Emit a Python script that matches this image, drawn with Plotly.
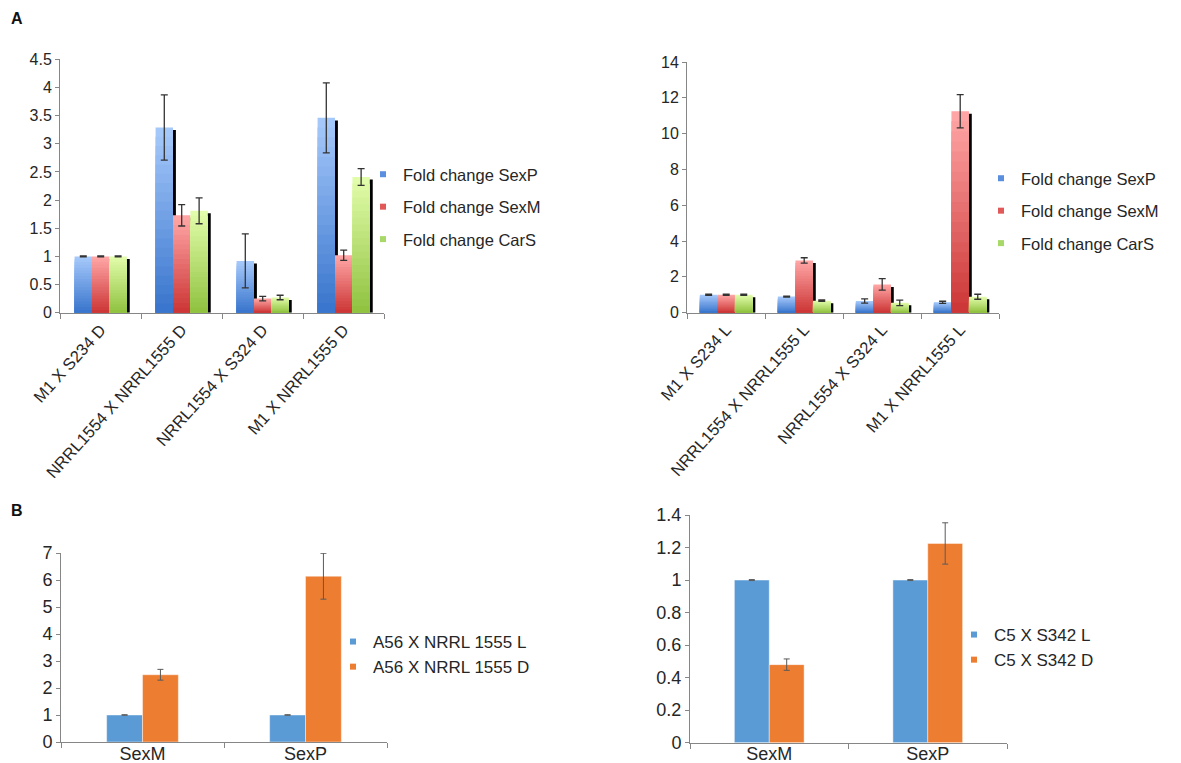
import plotly.graph_objects as go

# ---------------- Data ----------------
# Panel A (left: dark, right: light)
cats_dark = ["M1 X S234 D", "NRRL1554 X NRRL1555 D", "NRRL1554 X S324 D", "M1 X NRRL1555 D"]
cats_light = ["M1 X S234 L", "NRRL1554 X NRRL1555 L", "NRRL1554 X S324 L", "M1 X NRRL1555 L"]
series_names = ["Fold change SexP", "Fold change SexM", "Fold change CarS"]

dark_sexp = [1.00, 3.29, 0.92, 3.46]
dark_sexp_err = [0.01, 0.58, 0.48, 0.62]
dark_sexm = [1.00, 1.73, 0.25, 1.02]
dark_sexm_err = [0.01, 0.19, 0.04, 0.09]
dark_cars = [1.00, 1.81, 0.27, 2.41]
dark_cars_err = [0.01, 0.23, 0.04, 0.15]

light_sexp = [1.00, 0.90, 0.65, 0.58]
light_sexp_err = [0.03, 0.03, 0.12, 0.06]
light_sexm = [1.00, 2.92, 1.58, 11.25]
light_sexm_err = [0.03, 0.15, 0.32, 0.93]
light_cars = [1.00, 0.67, 0.55, 0.89]
light_cars_err = [0.03, 0.04, 0.15, 0.14]

# Panel B
genes = ["SexM", "SexP"]
a56_names = ["A56 X NRRL 1555 L", "A56 X NRRL 1555 D"]
a56_light = [1.00, 1.00]
a56_light_err = [0.01, 0.01]
a56_dark = [2.49, 6.14]
a56_dark_err = [0.20, 0.85]

c5_names = ["C5 X S342 L", "C5 X S342 D"]
c5_light = [1.00, 1.00]
c5_light_err = [0.003, 0.003]
c5_dark = [0.48, 1.225]
c5_dark_err = [0.035, 0.127]

# ---------------- Styles ----------------
FONT = "Liberation Sans, Arial, sans-serif"
TXT = "#262626"
AXC = "#868686"
W, H = 1181, 763
BODY = 8  # page margin around the figure

grad_top = [(165, 200, 250), (255, 165, 165), (225, 252, 170)]
grad_bot = [(58, 118, 205), (205, 55, 55), (145, 195, 65)]
legend_cols = ["#5a8ede", "#e05858", "#a8d868"]
B_COLS = ["#5b9bd5", "#ed7d31"]
N_LAYERS = 20


def lerp(c1, c2, t):
    return "rgb(%d,%d,%d)" % tuple(round(a + (b - a) * t) for a, b in zip(c1, c2))


def fx(p):
    return (p - BODY) / W


def fy(p):
    return 1 - (p - BODY) / H


fig = go.Figure()


def panel_a(xa, ya, cats, vals, errs, offsets, width, yrange, legend):
    # shadows first
    dx = 0.036
    dy = yrange[1] / 250.0 * 2.5
    for i, v in enumerate(vals):
        fig.add_trace(go.Bar(
            x=cats, y=[max(a - dy, 0) for a in v], offset=offsets[i] + dx, width=width,
            marker=dict(color="#000000", line=dict(width=0)),
            xaxis=xa, yaxis=ya, showlegend=False, hoverinfo="skip"))
    # gradient bars
    for i, v in enumerate(vals):
        for k in range(N_LAYERS):
            frac = 1 - k / N_LAYERS
            fig.add_trace(go.Bar(
                x=cats, y=[a * frac for a in v], offset=offsets[i], width=width,
                marker=dict(color=lerp(grad_top[i], grad_bot[i], k / (N_LAYERS - 1)), line=dict(width=0)),
                xaxis=xa, yaxis=ya, showlegend=False, hoverinfo="skip"))
    # error bars on top
    for i, v in enumerate(vals):
        fig.add_trace(go.Bar(
            x=cats, y=v, offset=offsets[i], width=width,
            marker=dict(color="rgba(0,0,0,0)", line=dict(width=0)),
            error_y=dict(type="data", array=errs[i], color="#333333", thickness=1.3, width=3.5),
            xaxis=xa, yaxis=ya, showlegend=False, name=series_names[i]))
    # legend entries
    for i in range(3):
        fig.add_trace(go.Scatter(
            x=[None], y=[None], mode="markers", name=series_names[i],
            marker=dict(symbol="square", size=6, color=legend_cols[i]),
            xaxis=xa, yaxis=ya, legend=legend, legendgroup=legend + str(i)))


def panel_b(xa, ya, cats, vals, errs, names, legend):
    offsets = [-0.22, 0.0]
    for i, v in enumerate(vals):
        fig.add_trace(go.Bar(
            x=cats, y=v, offset=offsets[i], width=0.22, name=names[i],
            marker=dict(color=B_COLS[i], line=dict(width=0.8, color="rgba(255,255,255,0.55)")),
            error_y=dict(type="data", array=errs[i], color="#5a5a5a", thickness=1, width=3),
            xaxis=xa, yaxis=ya, showlegend=False))
    for i in range(2):
        fig.add_trace(go.Scatter(
            x=[None], y=[None], mode="markers", name=names[i],
            marker=dict(symbol="square", size=6, color=B_COLS[i]),
            xaxis=xa, yaxis=ya, legend=legend, legendgroup=legend + str(i)))


panel_a("x", "y", cats_dark, [dark_sexp, dark_sexm, dark_cars],
        [dark_sexp_err, dark_sexm_err, dark_cars_err],
        [-0.32, -0.105, 0.11], 0.215, [0, 4.5], "legend")
panel_a("x2", "y2", cats_light, [light_sexp, light_sexm, light_cars],
        [light_sexp_err, light_sexm_err, light_cars_err],
        [-0.335, -0.11, 0.115], 0.225, [0, 14], "legend2")
panel_b("x3", "y3", genes, [a56_light, a56_dark], [a56_light_err, a56_dark_err], a56_names, "legend3")
panel_b("x4", "y4", genes, [c5_light, c5_dark], [c5_light_err, c5_dark_err], c5_names, "legend4")


def xaxis(a, b, anchor, angle, size, standoff=0):
    return dict(domain=[fx(a), fx(b)], anchor=anchor, type="category", tickson="boundaries",
                ticks="outside", ticklen=5, tickcolor=AXC, showline=True, linecolor=AXC,
                linewidth=1, showgrid=False, zeroline=False, tickangle=angle, automargin=False,
                ticklabelstandoff=standoff,
                tickfont=dict(family=FONT, size=size, color=TXT), fixedrange=True)


def yaxis(top, bottom, anchor, rng, dtick, size):
    return dict(domain=[fy(bottom), fy(top)], anchor=anchor, range=rng, dtick=dtick,
                ticks="outside", ticklen=4, tickcolor=AXC, showline=True, linecolor=AXC,
                linewidth=1, showgrid=False, zeroline=False, automargin=False,
                tickfont=dict(family=FONT, size=size, color=TXT), fixedrange=True)


def legend_cfg(xpx, ytop_px, size, gap):
    return dict(x=fx(xpx), y=fy(ytop_px), xanchor="left", yanchor="top",
                font=dict(family=FONT, size=size, color=TXT), bgcolor="rgba(0,0,0,0)",
                tracegroupgap=gap, borderwidth=0)


fig.update_layout(
    width=W, height=H, margin=dict(l=0, r=0, t=0, b=0, pad=0, autoexpand=False),
    paper_bgcolor="white", plot_bgcolor="white", barmode="overlay",
    font=dict(family=FONT, color=TXT),
    xaxis=xaxis(60, 384, "y", -48, 16.5),
    yaxis=yaxis(59.3, 312.7, "x", [0, 4.5], 0.5, 16),
    xaxis2=xaxis(687, 999, "y2", -48, 16.5),
    yaxis2=yaxis(62, 312.7, "x2", [0, 14], 2, 16),
    xaxis3=xaxis(61, 387, "y3", 0, 18, -5),
    yaxis3=yaxis(553, 742, "x3", [0, 7], 1, 18),
    xaxis4=xaxis(690, 1007, "y4", 0, 18, -5),
    yaxis4=yaxis(515, 742.7, "x4", [0, 1.4], 0.2, 18),
    legend=legend_cfg(363, 157, 16.5, 8),
    legend2=legend_cfg(981, 161, 16.5, 8),
    legend3=legend_cfg(333, 624, 17, 0),
    legend4=legend_cfg(954, 617, 17, 0),
    annotations=[
        dict(text="<b>A</b>", x=fx(17), y=fy(18), xref="paper", yref="paper",
             xanchor="center", yanchor="middle",
             showarrow=False, font=dict(family=FONT, size=16, color="#111111")),
        dict(text="<b>B</b>", x=fx(17), y=fy(510), xref="paper", yref="paper",
             xanchor="center", yanchor="middle",
             showarrow=False, font=dict(family=FONT, size=16, color="#111111")),
    ],
)

fig.write_html("out.html")
